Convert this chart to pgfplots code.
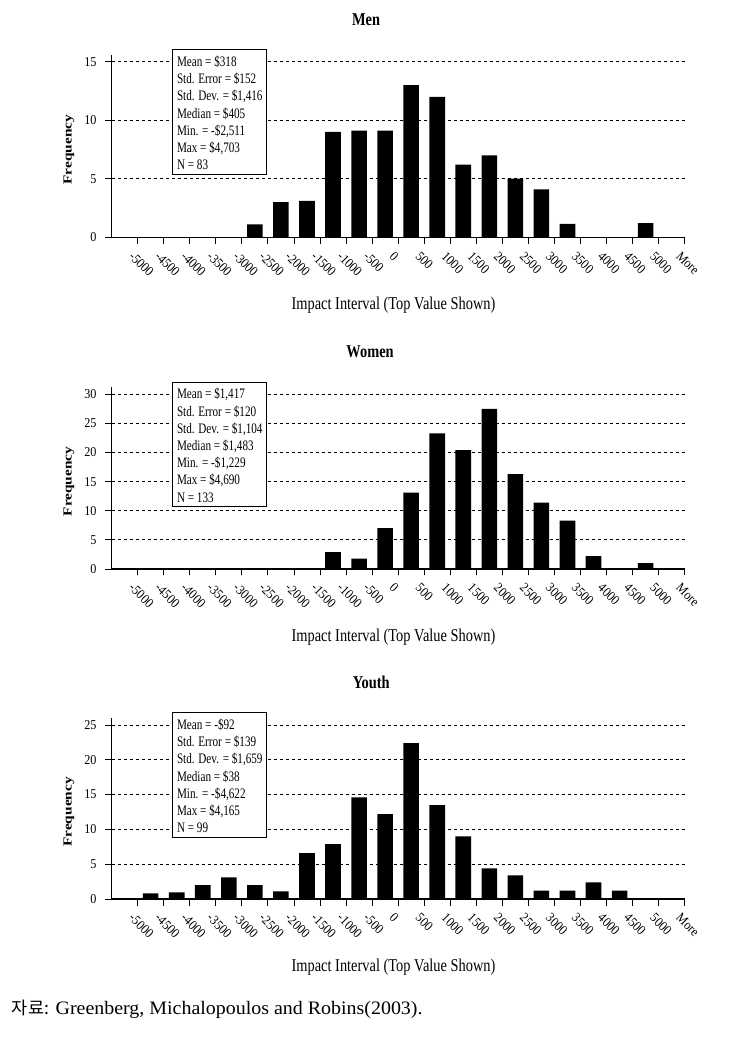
\documentclass[border=0pt]{standalone}
\usepackage{fontspec}
\setmainfont{Liberation Serif}[FakeStretch=0.8]
\newfontfamily\boxfont{Liberation Serif}[FakeStretch=0.77]
\newfontfamily\tickfont{Liberation Serif}[FakeStretch=0.9]
\newfontfamily\vfont{Liberation Serif}[FakeStretch=1.25]
\newfontfamily\srcfont{Liberation Serif}[FakeStretch=1.05]
\newfontfamily\cjk{Noto Sans CJK KR}
\usepackage{pgfplots}
\pgfplotsset{compat=1.18}

% stats box: seven lines, fixed size
\newcommand{\statlines}[7]{\parbox[t][124.5pt][t]{94pt}{\boxfont\fontsize{14.5}{17.2}\selectfont
\rule{0pt}{16.7pt}\hspace*{4.5pt}#1\\\hspace*{4.5pt}#2\\\hspace*{4.5pt}#3\\\hspace*{4.5pt}#4\\
\hspace*{4.5pt}#5\\\hspace*{4.5pt}#6\\\hspace*{4.5pt}#7}}

\tikzset{statbox/.style={draw=black,line width=1pt,fill=white,inner sep=0pt,anchor=north west}}

\pgfplotsset{
 hist/.style={
  scale only axis,width=573.1pt,xmin=-1,xmax=21,ymin=0,
  axis lines*=left,axis line style={line width=1.3pt},
  xtick={0,...,21},
  xticklabels={-5000,-4500,-4000,-3500,-3000,-2500,-2000,-1500,-1000,-500,0,500,1000,1500,2000,2500,3000,3500,4000,4500,5000,More},
  ytick distance=5,
  xtick align=center,ytick align=outside,
  major tick length=6.5pt,
  tick style={black,line width=0.9pt},
  ymajorgrids,grid style={black,line width=0.9pt,dash pattern=on 3.3pt off 2.7pt},
  x tick label style={font=\tickfont\fontsize{13.5}{13.5}\selectfont,xshift=-3pt,yshift=-2pt,rotate=-45,anchor=north west},
  y tick label style={font=\tickfont\fontsize{13.5}{13.5}\selectfont,xshift=-5pt},
  /pgf/number format/assume math mode=true,
  ylabel={Frequency},
  ylabel style={font=\vfont\bfseries\fontsize{12.3}{12.3}\selectfont,at={(axis description cs:-0.0743,0.48)},anchor=center},
  xlabel={Impact Interval (Top Value Shown)},
  xlabel style={font=\fontsize{18}{18}\selectfont,at={(axis description cs:0.308,0)},anchor=base west,yshift=-72.5pt},
  title style={font=\bfseries\fontsize{18}{18}\selectfont,anchor=base,yshift=23.5pt},
  clip=false,
  ybar,bar width=0.6,
 }
}

\begin{document}
\begin{tikzpicture}
\path[use as bounding box] (0,0) rectangle (731pt,1061pt);

\begin{axis}[hist,at={(111.6pt,823.7pt)},anchor=south west,height=182.7pt,ymax=15.6,
 title={Men},title style={at={(axis description cs:0.444,1)}}]
\addplot[fill=black,draw=none] coordinates {(4.5,1.1) (5.5,3.0) (6.5,3.1) (7.5,9.0) (8.5,9.1) (9.5,9.1)
 (10.5,13.0) (11.5,12.0) (12.5,6.2) (13.5,7.0) (14.5,5.0) (15.5,4.1) (16.5,1.15) (19.5,1.2)};
\node[statbox] at (rel axis cs:0.1054,1.029) {\statlines{Mean = \$318}{Std. Error = \$152}{Std. Dev. = \$1,416}{Median = \$405}{Min. = -\$2,511}{Max = \$4,703}{N = 83}};
\end{axis}

\begin{axis}[hist,at={(111.6pt,492pt)},anchor=south west,height=182.3pt,ymax=31.3,
 title={Women},title style={at={(axis description cs:0.451,1)}}]
\addplot[fill=black,draw=none] coordinates {(7.5,2.9) (8.5,1.8) (9.5,7.0) (10.5,13.1) (11.5,23.3) (12.5,20.4)
 (13.5,27.5) (14.5,16.3) (15.5,11.4) (16.5,8.3) (17.5,2.2) (19.5,1.0)};
\node[statbox] at (rel axis cs:0.1054,1.027) {\statlines{Mean = \$1,417}{Std. Error = \$120}{Std. Dev. = \$1,104}{Median = \$1,483}{Min. = -\$1,229}{Max = \$4,690}{N = 133}};
\end{axis}

\begin{axis}[hist,at={(111.6pt,162pt)},anchor=south west,height=181.3pt,ymax=26.05,
 title={Youth},title style={at={(axis description cs:0.453,1)}}]
\addplot[fill=black,draw=none] coordinates {(0.5,0.8) (1.5,0.95) (2.5,2.0) (3.5,3.1) (4.5,2.0) (5.5,1.1) (6.5,6.6)
 (7.5,7.9) (8.5,14.6) (9.5,12.2) (10.5,22.4) (11.5,13.5) (12.5,9.0) (13.5,4.4) (14.5,3.4)
 (15.5,1.2) (16.5,1.2) (17.5,2.4) (18.5,1.2)};
\node[statbox] at (rel axis cs:0.1054,1.030) {\statlines{Mean = -\$92}{Std. Error = \$139}{Std. Dev. = \$1,659}{Median = \$38}{Min. = -\$4,622}{Max = \$4,165}{N = 99}};
\end{axis}

\node[anchor=base west,inner sep=0pt] at (11.7pt,46pt) {\cjk\fontsize{17.5}{17.5}\selectfont 자료:\srcfont\fontsize{19}{19}\selectfont{} Greenberg, Michalopoulos and Robins(2003).};
\end{tikzpicture}
\end{document}
